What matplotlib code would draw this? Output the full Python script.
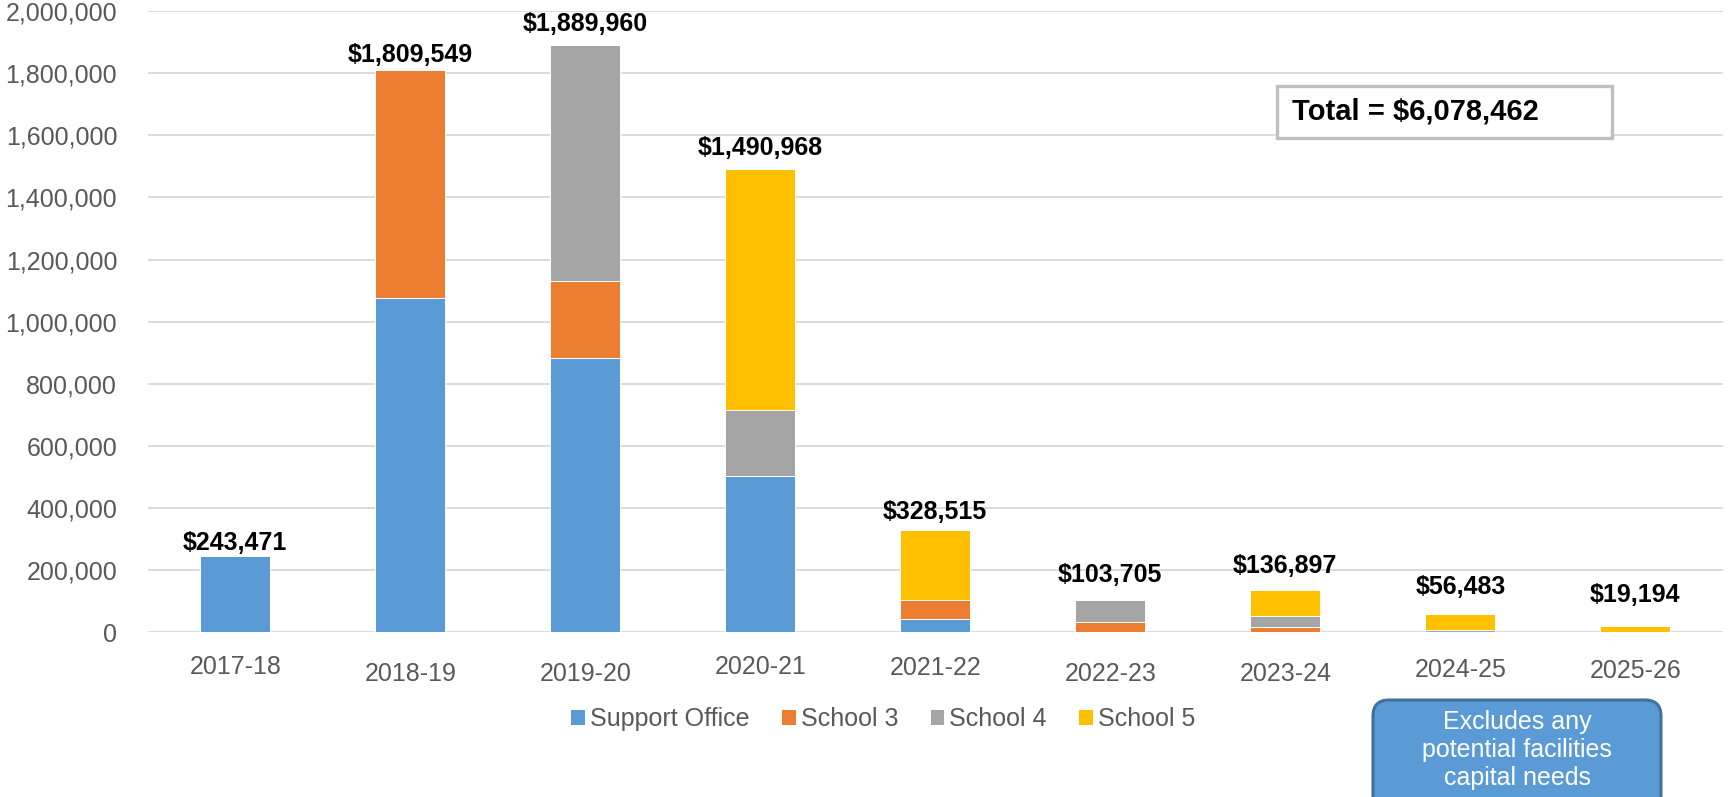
import matplotlib
matplotlib.use("Agg")
import matplotlib.pyplot as plt
import numpy as np
from matplotlib.patches import Patch, Rectangle, FancyBboxPatch
from matplotlib.ticker import StrMethodFormatter, MultipleLocator
from matplotlib.transforms import ScaledTranslation

# ---- data ----
years = ["2017-18", "2018-19", "2019-20", "2020-21", "2021-22",
         "2022-23", "2023-24", "2024-25", "2025-26"]
support_office = [243471, 1075000, 882000, 503000, 43000, 0, 0, 0, 0]
school_3 = [0, 734549, 249000, 0, 60000, 32000, 15000, 0, 0]
school_4 = [0, 0, 758960, 212000, 0, 71705, 36000, 7000, 0]
school_5 = [0, 0, 0, 775968, 225515, 0, 85897, 49483, 19194]
series_names = ["Support Office", "School 3", "School 4", "School 5"]
total_text = "Total = $6,078,462"
note_text = "Excludes any\npotential facilities\ncapital needs"

# ---- styles ----
colors = ["#5B9BD5", "#ED7D31", "#A5A5A5", "#FFC000"]
label_offsets_pt = [4.5, 6, 10, 10, 8, 13, 12, 14.5, 17]
xtick_dy_pt = [2.5, -2.5, -2.5, 2.5, 1.5, -2.5, -2.5, 0, -0.5]
tick_color = "#595959"

plt.rcParams['font.family'] = ['Liberation Sans', 'DejaVu Sans']

fig = plt.figure(figsize=(17.32, 7.97), dpi=100)
ax = fig.add_axes([0.0853, 0.207, 0.9094, 0.779])

x = np.arange(len(years))
series = [support_office, school_3, school_4, school_5]
bottom = np.zeros(len(years))
for vals, c in zip(series, colors):
    v = np.array(vals, dtype=float)
    ax.bar(x, v, width=0.4, bottom=bottom, color=c, edgecolor="white",
           linewidth=0.7, zorder=3)
    bottom += v

totals = bottom
for i, t in enumerate(totals):
    ax.annotate(f"${t:,.0f}", xy=(x[i], t), xytext=(0, label_offsets_pt[i]),
                textcoords="offset points", ha="center", va="baseline",
                fontsize=18, fontweight="bold", color="black", zorder=5)

ax.set_xlim(-0.5, len(years) - 0.5)
ax.set_ylim(0, 2000000)
ax.yaxis.set_major_locator(MultipleLocator(200000))
ax.yaxis.set_major_formatter(StrMethodFormatter("{x:,.0f}"))
ax.set_xticks(x)
ax.set_xticklabels(years)
ax.tick_params(axis="y", length=0, pad=22, labelsize=18, labelcolor=tick_color)
ax.tick_params(axis="x", length=0, pad=19, labelsize=18, labelcolor=tick_color)
for lab, dy in zip(ax.get_xticklabels(), xtick_dy_pt):
    lab.set_transform(lab.get_transform() + ScaledTranslation(0, dy / 72, fig.dpi_scale_trans))
ax.grid(axis="y", color="#D9D9D9", linewidth=1.3, zorder=0)
ax.set_axisbelow(True)
for s in ax.spines.values():
    s.set_visible(False)

handles = [Patch(facecolor=c, edgecolor="none") for c in colors]
leg = fig.legend(handles, series_names, loc="center", bbox_to_anchor=(0.51, 0.098),
                 ncol=4, frameon=False, fontsize=18, handlelength=0.55,
                 handleheight=0.55, handletextpad=0.2, columnspacing=1.3)
for t in leg.get_texts():
    t.set_color(tick_color)

# Total box
fig.add_artist(Rectangle((12.77, 6.59), 3.35, 0.52, transform=fig.dpi_scale_trans,
                         facecolor="white", edgecolor="#BFBFBF", linewidth=2.4, zorder=10))
fig.text(12.92, 6.85, total_text, transform=fig.dpi_scale_trans, ha="left", va="center",
         fontsize=21, fontweight="bold", color="black", zorder=11)

# Note box
fig.add_artist(FancyBboxPatch((13.73, -0.2), 2.88, 1.17,
                              boxstyle="round,pad=0,rounding_size=0.16",
                              transform=fig.dpi_scale_trans, facecolor="#5B9BD5",
                              edgecolor="#41719C", linewidth=2.2, zorder=10, clip_on=False))
fig.text(15.17, 0.47, note_text, transform=fig.dpi_scale_trans, ha="center", va="center",
         fontsize=18, color="white", linespacing=1.2, zorder=11)

fig.savefig("out.png", dpi=100)
